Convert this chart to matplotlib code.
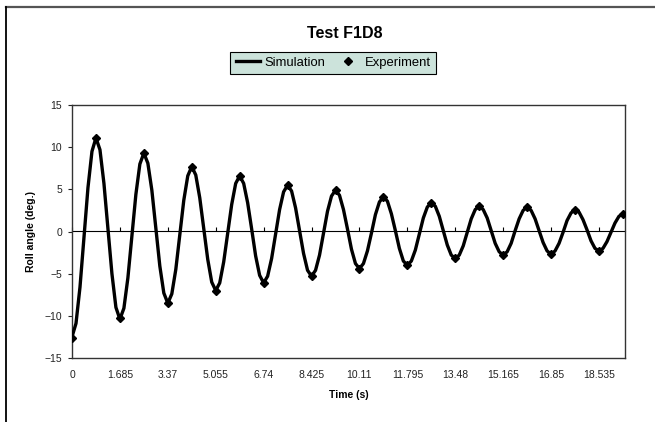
import numpy as np
import matplotlib
matplotlib.use("Agg")
import matplotlib.pyplot as plt
from matplotlib.lines import Line2D

plt.rcParams['font.family'] = ['Liberation Sans', 'DejaVu Sans']

# simulation, sampled every sim_step seconds (12 samples per 1.685 s period)
sim_step = 0.140417
sim_roll = [
    -12.5, -10.9, -6.6, -0.7, 5.2, 9.5,
    11.1, 9.7, 5.7, 0.4, -5.0, -9.0,
    -10.4, -9.1, -5.5, -0.5, 4.4, 8.0,
    9.3, 8.1, 4.9, 0.4, -4.1, -7.3,
    -8.5, -7.4, -4.5, -0.4, 3.7, 6.6,
    7.7, 6.7, 4.0, 0.4, -3.3, -6.0,
    -7.0, -6.1, -3.6, -0.2, 3.2, 5.7,
    6.6, 5.7, 3.4, 0.3, -2.9, -5.2,
    -6.1, -5.3, -3.2, -0.3, 2.6, 4.7,
    5.5, 4.8, 2.8, 0.1, -2.6, -4.6,
    -5.3, -4.6, -2.8, -0.2, 2.4, 4.2,
    4.9, 4.3, 2.6, 0.3, -2.1, -3.8,
    -4.4, -3.8, -2.3, -0.2, 2.0, 3.5,
    4.1, 3.6, 2.1, 0.1, -2.0, -3.5,
    -4.0, -3.5, -2.2, -0.3, 1.6, 2.9,
    3.4, 3.0, 1.8, 0.1, -1.6, -2.8,
    -3.2, -2.8, -1.7, -0.1, 1.5, 2.6,
    3.0, 2.6, 1.6, 0.1, -1.4, -2.4,
    -2.8, -2.4, -1.4, 0.1, 1.5, 2.5,
    2.9, 2.5, 1.5, 0.1, -1.3, -2.3,
    -2.7, -2.3, -1.4, -0.1, 1.3, 2.2,
    2.6, 2.3, 1.4, 0.2, -1.1, -2.0,
    -2.3, -2.0, -1.2, -0.1, 1.0, 1.8,
    2.1,
]

# experiment (peaks and troughs)
exp_time = [0, 0.84, 1.69, 2.53, 3.37, 4.21, 5.06, 5.90, 6.74, 7.58, 8.43, 9.27,
            10.11, 10.95, 11.80, 12.64, 13.48, 14.32, 15.17, 16.01, 16.85, 17.69,
            18.54, 19.38]
exp_roll = [-12.6, 11.1, -10.3, 9.3, -8.5, 7.7, -7.0, 6.6, -6.1, 5.5, -5.3, 4.9,
            -4.4, 4.1, -4.0, 3.4, -3.2, 3.0, -2.8, 2.9, -2.7, 2.6, -2.3, 2.1]

x_labels = ['0', '1.685', '3.37', '5.055', '6.74', '8.425', '10.11', '11.795',
            '13.48', '15.165', '16.85', '18.535']
y_ticks = [-15, -10, -5, 0, 5, 10, 15]

sim_time = np.arange(len(sim_roll)) * sim_step
x_pos = [float(s) for s in x_labels]

fig = plt.figure(figsize=(6.55, 4.22), dpi=100)
ax = fig.add_axes([72 / 655, 1 - 358 / 422, 553 / 655, 253 / 422])

ax.plot(sim_time, sim_roll, color='black', lw=2.4, label='Simulation', zorder=3,
        solid_joinstyle='round')
ax.plot(exp_time, exp_roll, ls='none', marker='D', ms=4.5, color='black',
        label='Experiment', zorder=4)

ax.set_xlim(0, 19.45)
ax.set_ylim(-15, 15)
ax.set_xticks(x_pos)
ax.set_xticklabels(x_labels)
ax.set_yticks(y_ticks)
ax.tick_params(axis='x', length=0, pad=9, labelsize=7.5, colors='#222222')
ax.tick_params(axis='y', length=3, width=0.8, pad=4, labelsize=7.5, colors='#222222')
for s in ax.spines.values():
    s.set_color('#333333')
    s.set_linewidth(1.0)

# x axis crossing at 0 with its tick marks
zero_ax = ax.secondary_xaxis(0.5)
zero_ax.set_xticks(x_pos)
zero_ax.set_xticklabels([])
zero_ax.tick_params(length=3, width=0.8, direction='out', color='black')
zero_ax.spines['bottom'].set_linewidth(1.0)
zero_ax.spines['bottom'].set_color('black')

ax.set_xlabel('Time (s)', fontsize=7.5, fontweight='bold')
ax.xaxis.set_label_coords(0.5, -0.128)
ax.set_ylabel('Roll angle (deg.)', fontsize=7.5, fontweight='bold')
ax.yaxis.set_label_coords(-0.066, 0.5)

fig.text(0.527, 1 - 34 / 422, 'Test F1D8', ha='center', va='center',
         fontsize=11.5, fontweight='bold')

leg = fig.legend(loc='center', bbox_to_anchor=(333 / 655, 1 - 63 / 422), ncol=2,
                 fontsize=9.4, frameon=True, fancybox=False, handlelength=1.9,
                 handletextpad=0.3, columnspacing=0.8, borderpad=0.4,
                 borderaxespad=0, markerscale=0.8)
leg.get_frame().set_facecolor('#cce3db')
leg.get_frame().set_edgecolor('black')
leg.get_frame().set_linewidth(0.8)
leg.get_frame().set_alpha(1)

# chart area border (cropped at right and bottom)
fig.add_artist(Line2D([6 / 655, 1], [1 - 7 / 422, 1 - 7 / 422],
                      transform=fig.transFigure, color='#555555', lw=1.6))
fig.add_artist(Line2D([6 / 655, 6 / 655], [0, 1 - 7 / 422],
                      transform=fig.transFigure, color='black', lw=1.3))

fig.savefig('out.png', dpi=100)
